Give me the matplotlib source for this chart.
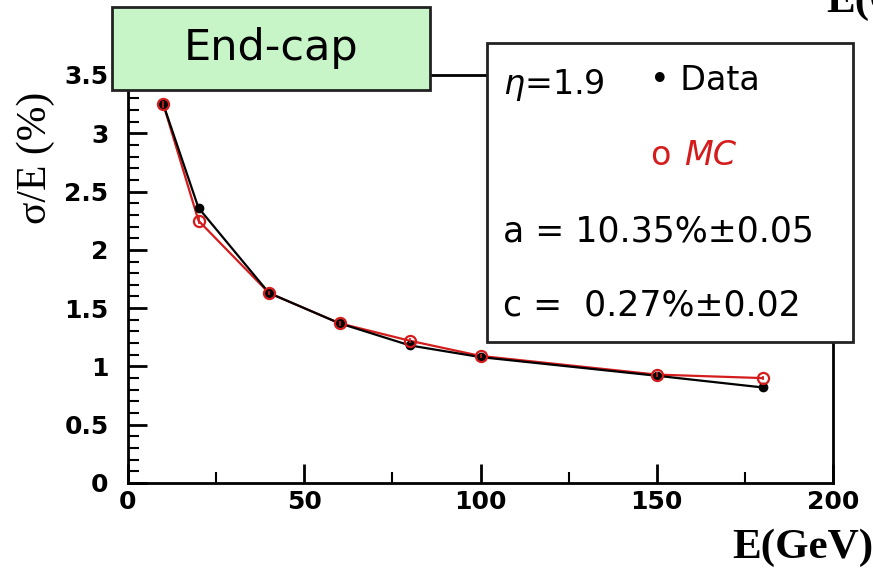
import matplotlib
matplotlib.use("Agg")
import matplotlib.pyplot as plt
from matplotlib.patches import Rectangle
from matplotlib.ticker import MultipleLocator

# ---- data ----
energy = [10, 20, 40, 60, 80, 100, 150, 180]
data_res = [3.25, 2.36, 1.63, 1.37, 1.18, 1.08, 0.92, 0.82]
mc_res = [3.25, 2.25, 1.63, 1.37, 1.22, 1.09, 0.93, 0.90]
err = [0.03, 0.03, 0.02, 0.02, 0.02, 0.02, 0.02, 0.02]
x_ticks = [0, 50, 100, 150, 200]
y_ticks = [0, 0.5, 1, 1.5, 2, 2.5, 3, 3.5]
y_ticklabels = ["0", "0.5", "1", "1.5", "2", "2.5", "3", "3.5"]

W, H = 873, 572
fig = plt.figure(figsize=(W / 100, H / 100), dpi=100)

def fx(x):
    return x / W

def fy(y):
    return 1 - y / H

ax_l, ax_r, ax_t, ax_b = 128, 833, 75, 483
ax = fig.add_axes([fx(ax_l), fy(ax_b), (ax_r - ax_l) / W, (ax_b - ax_t) / H])
ax.set_xlim(0, 200)
ax.set_ylim(0, 3.5)

ax.plot(energy, mc_res, color="#d41c1c", lw=1.6, zorder=2)
ax.plot(energy, data_res, color="black", lw=1.6, zorder=3)
ax.errorbar(energy, data_res, yerr=err, fmt="o", color="black", ms=6,
            elinewidth=1.2, capsize=0, zorder=4)
ax.errorbar(energy, mc_res, yerr=err, fmt="o", mfc="none", mec="#d41c1c",
            color="#d41c1c", ms=8, mew=1.6, elinewidth=1.2, capsize=0, zorder=5)

for s in ax.spines.values():
    s.set_linewidth(2)
ax.set_xticks(x_ticks)
ax.set_yticks(y_ticks)
ax.set_yticklabels(y_ticklabels)
ax.xaxis.set_minor_locator(MultipleLocator(25))
ax.yaxis.set_minor_locator(MultipleLocator(0.1))
ax.tick_params(axis="both", which="major", direction="in", length=14, width=2,
               labelsize=18, pad=5)
ax.tick_params(axis="both", which="minor", direction="in", length=8, width=1.5)
ax.tick_params(axis="y", which="major", length=14, pad=14)
for lab in ax.get_xticklabels() + ax.get_yticklabels():
    lab.set_fontweight("black")
    lab.set_fontfamily("DejaVu Sans")

# axis labels
fig.text(fx(873), fy(548), "E(GeV)", ha="right", va="center",
         fontsize=31, fontweight="bold", family="Liberation Serif")
fig.text(fx(36), fy(158), "σ/E (%)", ha="center", va="center", rotation=90,
         fontsize=30, family="Liberation Serif")
fig.text(fx(826), fy(2), "E(GeV)", ha="left", va="center",
         fontsize=31, fontweight="bold", family="Liberation Serif")

# End-cap box
fig.add_artist(Rectangle((fx(112), fy(90)), (430 - 112) / W, (90 - 7) / H,
                         transform=fig.transFigure, facecolor="#c8f5c8",
                         edgecolor="#222222", lw=2, zorder=10))
fig.text(fx(271), fy(48), "End-cap", ha="center", va="center", fontsize=31,
         family="DejaVu Sans", zorder=11)

# legend box
fig.add_artist(Rectangle((fx(487), fy(342)), (853 - 487) / W, (342 - 43) / H,
                         transform=fig.transFigure, facecolor="white",
                         edgecolor="#222222", lw=2, zorder=10))
fig.text(fx(503), fy(85), r"$\eta$=1.9", ha="left", va="center", fontsize=24,
         family="DejaVu Sans", zorder=11)
fig.text(fx(650), fy(80), "• Data", ha="left", va="center", fontsize=24,
         family="DejaVu Sans", zorder=11)
fig.text(fx(650), fy(155), "o", ha="left", va="center", fontsize=24,
         color="#d41c1c", family="DejaVu Sans", zorder=11)
fig.text(fx(684), fy(155), "MC", ha="left", va="center", fontsize=24,
         color="#d41c1c", style="italic", family="DejaVu Sans", zorder=11)
fig.text(fx(503), fy(232), "a = 10.35%±0.05", ha="left", va="center",
         fontsize=25, family="DejaVu Sans", zorder=11)
fig.text(fx(503), fy(305), "c =  0.27%±0.02", ha="left", va="center",
         fontsize=25, family="DejaVu Sans", zorder=11)

fig.savefig("out.png", dpi=100)
